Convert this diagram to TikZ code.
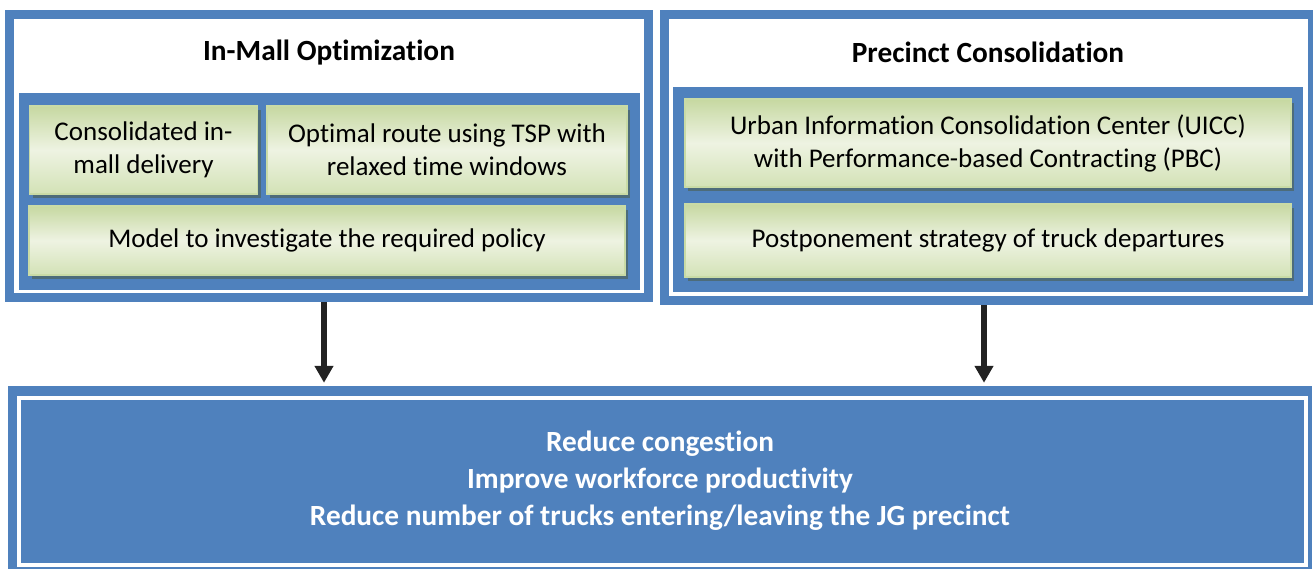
\documentclass[tikz,border=0pt]{standalone}
\usepackage{fontspec}
\setmainfont{Carlito}[Ligatures=NoCommon]
\usepackage{tikz}
\usetikzlibrary{arrows.meta,shadows,calc}
\definecolor{officeblue}{HTML}{4F81BD}
\definecolor{greentop}{HTML}{C6D8A1}
\definecolor{greenmid}{HTML}{EEF3E2}
\definecolor{greenbot}{HTML}{D3E2B6}
\definecolor{greenline}{HTML}{C9DBA6}
\definecolor{shadowslate}{HTML}{4D6C7A}
\definecolor{arrowgray}{HTML}{222222}
\newcommand{\fw}{9pt}

\begin{document}
\begin{tikzpicture}[x=1pt,y=-1pt,
    frame/.style={draw=officeblue,line width=\fw,fill=white,inner sep=0pt},
    panel/.style={fill=officeblue,inner sep=0pt},
    item/.style={draw=greenline,line width=1.5pt,top color=greentop,bottom color=greenbot,middle color=greenmid,
        drop shadow={shadow xshift=3pt,shadow yshift=-4pt,fill=shadowslate,opacity=1},
        inner sep=0pt,align=center,font=\fontsize{27}{33}\selectfont},
    heading/.style={font=\fontsize{29.3}{37}\selectfont\bfseries},
    flow/.style={draw=arrowgray,line width=6pt,-{Triangle[width=18pt,length=17pt]}}]
                    \useasboundingbox (0,0) rectangle (1313,569);
                    % left group
                    \node[frame,minimum width=639,minimum height=283] (mall) at (329,156) {};
                    \node[heading] (malltitle) at (329,53) {In-Mall Optimization};
                    \node[panel,minimum width=621,minimum height=197] (mallpanel) at (329.5,191.5) {};
                    \node[item,minimum width=228,minimum height=88] (inmall) at (143.5,150) {Consolidated in-\\mall delivery};
                    \node[item,minimum width=360,minimum height=88] (tsp) at (447,150) {Optimal route using TSP with\\relaxed time windows};
                    \node[item,minimum width=596,minimum height=69] (policy) at (327,240.5) {Model to investigate the required policy};
                    % right group
                    \node[frame,minimum width=648,minimum height=286] (precinct) at (988.5,157.5) {};
                    \node[heading] (precincttitle) at (988,52) {Precinct Consolidation};
                    \node[panel,minimum width=630,minimum height=205] (precinctpanel) at (988,189.5) {};
                    \node[item,minimum width=606,minimum height=88] (uicc) at (988,143) {Urban Information Consolidation Center (UICC)\\with Performance-based Contracting (PBC)};
                    \node[item,minimum width=606,minimum height=73] (postpone) at (988,240.5) {Postponement strategy of truck departures};
                    % outcome
                    \node[panel,minimum width=1304,minimum height=189,heading,text=white,align=center] (goal) at (660,480.5)
                        {Reduce congestion\\Improve workforce productivity\\Reduce number of trucks entering/leaving the JG precinct};
                    \draw[white,line width=4pt] (19,397.5) rectangle (1306,565);
                    \draw[flow,shorten >=3pt] ([xshift=-5pt]mall.south) -- ([xshift=-5pt]mall.south |- goal.north);
                    \draw[flow,shorten >=3pt] ([xshift=-4.5pt]precinct.south) -- ([xshift=-4.5pt]precinct.south |- goal.north);
                    \end{tikzpicture}
\end{document}
